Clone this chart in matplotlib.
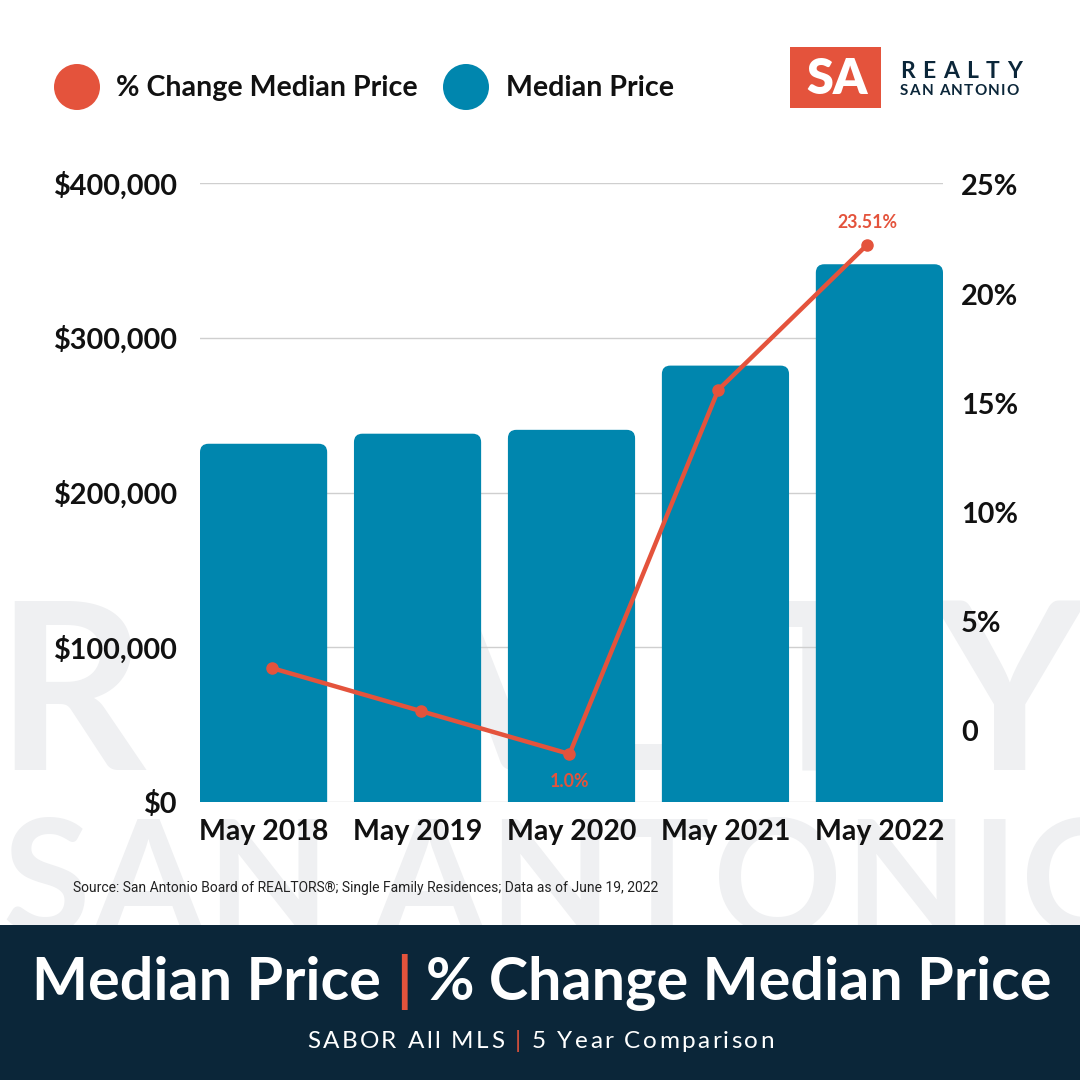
import numpy as np
import matplotlib.pyplot as plt
from matplotlib.patches import FancyBboxPatch, Rectangle, Circle
from matplotlib.font_manager import FontProperties

# chart data
years = ['May 2018', 'May 2019', 'May 2020', 'May 2021', 'May 2022']
median_price = [231500, 238000, 240500, 282000, 347500]
pct_change = [4.8, 2.9, 1.0, 17.1, 23.51]
pct_labels = ['', '', '1.0%', '', '23.51%']
price_ticks = [0, 100000, 200000, 300000, 400000]
price_tick_labels = ['$0', '$100,000', '$200,000', '$300,000', '$400,000']
pct_ticks = [0, 5, 10, 15, 20, 25]
pct_tick_labels = ['0', '5%', '10%', '15%', '20%', '25%']

TEAL = '#0086AE'
ORANGE = '#E4533C'
NAVY = '#0B2639'
WMARK = '#EFF0F2'

plt.rcParams['font.family'] = ['Lato', 'DejaVu Sans']
plt.rcParams['font.weight'] = 'bold'

W = H = 1080
fig = plt.figure(figsize=(10.8, 10.8), dpi=100)
fig.patch.set_facecolor('white')


def fx(x):
    return x / W


def fy(y):
    return 1 - y / H


renderer = fig.canvas.get_renderer()


def text_w(s, prop):
    return renderer.get_text_width_height_descent(s, prop, ismath=False)[0]


def tracked(segments, x0, x1, y, size, weight='bold', zorder=11, family='Lato'):
    # spread characters so the string spans x0..x1 (pixels), baseline at y
    prop = FontProperties(family=family, weight=weight, size=size)
    full = ''.join(s for s, c in segments)
    wI = text_w('I', prop)
    n = len(full)
    track = (x1 - x0 - text_w(full, prop)) / (n - 1)
    i = 0
    for s, c in segments:
        for ch in s:
            if ch != ' ':
                pos = (text_w(full[:i] + 'I', prop) - wI) if i else 0
                fig.text(fx(x0 + pos + i * track), fy(y), ch, color=c,
                         fontproperties=prop, ha='left', va='baseline',
                         zorder=zorder)
            i += 1


def pieces(segments, x0, x1, y, size, gap, zorder=11):
    # draw coloured pieces one after another; font scaled to span x0..x1
    prop = FontProperties(family='Lato', weight='bold', size=size)
    total = sum(text_w(s, prop) for s, c in segments) + gap * (len(segments) - 1)
    prop.set_size(size * (x1 - x0 - gap * (len(segments) - 1)) /
                  (total - gap * (len(segments) - 1)))
    xp = x0
    for s, c in segments:
        fig.text(fx(xp), fy(y), s, color=c, fontproperties=prop,
                 ha='left', va='baseline', zorder=zorder)
        xp += text_w(s, prop) + gap


# watermark behind the chart
tracked([('REALTY', WMARK)], -5, 1085, 770, 168, zorder=-2)
tracked([('SAN ANTONIO', WMARK)], 2, 1150, 934, 115, zorder=-2)

# main axes (bars)
rect = [fx(200), fy(802), fx(743), 619 / H]
ax = fig.add_axes(rect)
ax.patch.set_visible(False)
x = np.arange(len(years))
bw = 0.826
r = 0.055
aspect = (400000 / 619) * 154
for xi, v in zip(x, median_price):
    ax.add_patch(FancyBboxPatch((xi - bw / 2, -30000), bw, v + 30000,
                                boxstyle=f'round,pad=0,rounding_size={r}',
                                mutation_aspect=aspect, fc=TEAL, ec='none',
                                zorder=2))
ax.set_xlim(-0.413, 4.413)
ax.set_ylim(0, 400000)
ax.set_yticks(price_ticks)
ax.set_yticklabels(price_tick_labels)
ax.set_xticks(x)
ax.set_xticklabels(years)
ax.yaxis.grid(True, color='#CFCFCF', lw=1)
ax.set_axisbelow(True)
for s in ax.spines.values():
    s.set_visible(False)
ax.tick_params(axis='y', length=0, pad=16, labelsize=20.8, labelcolor='#111111')
ax.tick_params(axis='x', length=0, pad=12, labelsize=20.5, labelcolor='#111111')

# right axis labels
axr = ax.twinx()
axr.set_ylim(-3.251, 25.09)
axr.set_yticks(pct_ticks)
axr.set_yticklabels(pct_tick_labels)
axr.tick_params(axis='y', length=0, pad=13, labelsize=20.8, labelcolor='#111111')
for s in axr.spines.values():
    s.set_visible(False)

# % change line, on its own overlay axes
axl = fig.add_axes(rect)
axl.patch.set_visible(False)
axl.set_xlim(-0.484, 4.511)
axl.set_ylim(-1.123, 26.25)
axl.plot(x, pct_change, color=ORANGE, lw=3.2, marker='o', ms=8,
         solid_capstyle='round', clip_on=False, zorder=5)
for xi, v, lab in zip(x, pct_change, pct_labels):
    if lab:
        off = -20 if v < 5 else 16.5
        axl.annotate(lab, (xi, v), xytext=(0, off), textcoords='offset points',
                     ha='center', va='center', color=ORANGE, fontsize=12.8,
                     fontweight='bold')
axl.axis('off')

# legend
fig.patches.append(Circle((fx(77), fy(87)), 23 / W, transform=fig.transFigure,
                          fc=ORANGE, ec='none'))
fig.text(fx(116), fy(88), '% Change Median Price', fontsize=20.6, ha='left',
         va='center', color='#111111')
fig.patches.append(Circle((fx(466), fy(87)), 23 / W, transform=fig.transFigure,
                          fc=TEAL, ec='none'))
fig.text(fx(506), fy(88), 'Median Price', fontsize=20.6, ha='left',
         va='center', color='#111111')

# logo
fig.patches.append(Rectangle((fx(790), fy(108)), 91 / W, 61 / H,
                             transform=fig.transFigure, fc=ORANGE, ec='none'))
fig.text(fx(837), fy(94), 'SA', fontsize=35, color='white', ha='center',
         va='baseline', fontweight='heavy')
tracked([('REALTY', NAVY)], 900, 1022, 78, 16.5)
tracked([('SAN ANTONIO', NAVY)], 900, 1019, 95, 11)

# source
fig.text(fx(73), fy(892), 'Source: San Antonio Board of REALTORS®; Single Family '
         'Residences; Data as of June 19, 2022', fontsize=10, color='#222222',
         fontweight='normal', family='Roboto', ha='left', va='baseline')

# bottom banner
fig.patches.append(Rectangle((0, 0), 1, 155 / H, transform=fig.transFigure,
                             fc=NAVY, ec='none', zorder=10))
pieces([('Median Price', 'white'), ('|', ORANGE),
        ('% Change Median Price', 'white')], 32, 1049, 1000, 44, 15)
tracked([('SABOR All MLS ', 'white'), ('|', ORANGE),
         (' 5 Year Comparison', 'white')], 307, 774, 1048, 17.5,
        weight='normal')

fig.savefig('out.png', dpi=100)
